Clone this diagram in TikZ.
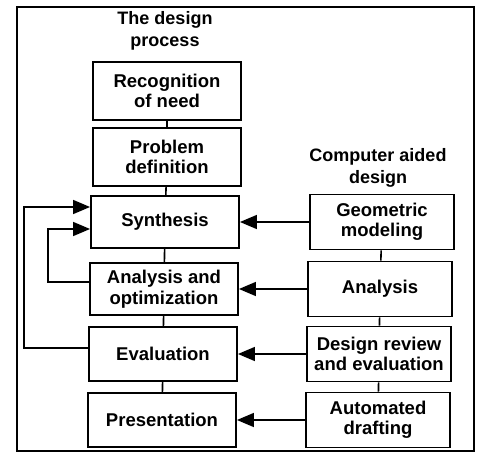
\documentclass[tikz,border=0pt]{standalone}
\usepackage{fontspec}
\setmainfont{Liberation Sans}
\usetikzlibrary{arrows.meta}

\begin{document}
\begin{tikzpicture}[x=1bp, y=-1bp, line width=1.6bp,
  box/.style={draw, line width=1.9bp, align=center, inner sep=0pt,
    font=\bfseries\fontsize{18.5bp}{20.5bp}\selectfont},
  lbox/.style={box, minimum width=148bp, minimum height=54bp},
  rbox/.style={box, minimum width=144bp, minimum height=55bp},
  head/.style={align=center, font=\bfseries\fontsize{18bp}{22bp}\selectfont},
  tip/.style={-{Triangle[length=17bp,width=14bp]}}]
\useasboundingbox (0,0) rectangle (479,463);
% frame
\draw[line width=1.5bp] (17,7) rectangle (474,451);

% the design process
\node[head] (proc) at (165,31) {The design\\process};
\node[lbox, minimum height=58bp] (need) at (167,91) {Recognition\\of need};
\node[lbox, minimum height=58bp] (def) at (167,157) {Problem\\definition};
\node[lbox, minimum height=52bp] (syn) at (165,222) {Synthesis};
\node[lbox, minimum height=52bp] (ana) at (164,289) {Analysis and\\optimization};
\node[lbox] (eva) at (163,354) {Evaluation};
\node[lbox] (pre) at (162,420) {Presentation};
\draw (need) -- (def);
\draw (def) -- (syn);
\draw (syn) -- (ana);
\draw (ana) -- (eva);
\draw (eva) -- (pre);

% computer aided design
\node[head] (cad) at (378,168) {Computer aided\\design};
\node[rbox] (geo) at (382,222) {Geometric\\modeling};
\node[rbox] (cana) at (380,289) {Analysis};
\node[rbox] (rev) at (379,354) {Design review\\and evaluation};
\node[rbox] (dra) at (378,420) {Automated\\drafting};
\draw (geo) -- (cana);
\draw (cana) -- (rev);
\draw (rev) -- (dra);

% arrows between the columns
\draw[tip] (geo) -- (syn);
\draw[tip] (cana) -- (ana);
\draw[tip] (rev) -- (eva);
\draw[tip] (dra) -- (pre);

% feedback loops
\draw[tip] ([yshift=6bp]eva.west) -- ++(-64,0) |- ([yshift=15bp]syn.west);
\draw[tip] ([yshift=7bp]ana.west) -- ++(-41,0) |- ([yshift=-7bp]syn.west);
\end{tikzpicture}
\end{document}
